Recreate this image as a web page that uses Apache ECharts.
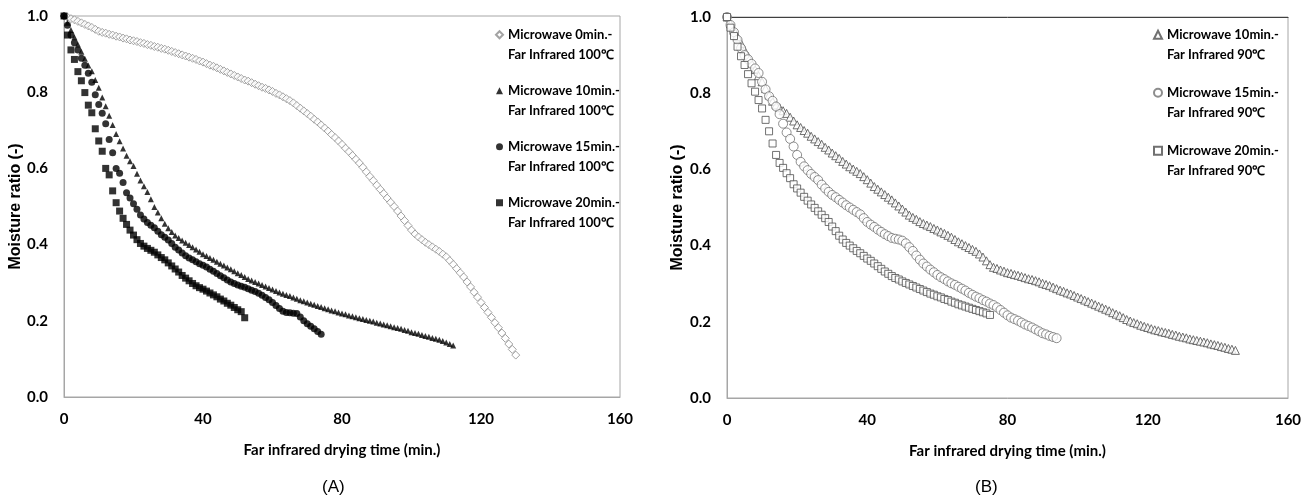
<!DOCTYPE html>
<html>
<head>
<meta charset="utf-8">
<script src="https://cdn.jsdelivr.net/npm/echarts@6/dist/echarts.min.js"></script>
<style>
html, body { margin: 0; padding: 0; background: #fff; }
#main { width: 1312px; height: 499px; }
</style>
</head>
<body>
<div id="main"></div>
<script>
// moisture ratio, one reading per minute of far infrared drying
var timeStep = 1;

// (A) far infrared 100 C
var mw0A = [
  1.000, 0.997, 0.993, 0.990, 0.986, 0.982, 0.978, 0.974, 0.970, 0.965,
  0.960, 0.957, 0.955, 0.952, 0.950, 0.947, 0.945, 0.942, 0.940, 0.937,
  0.935, 0.933, 0.930, 0.928, 0.925, 0.923, 0.920, 0.918, 0.915, 0.913,
  0.910, 0.907, 0.904, 0.901, 0.898, 0.895, 0.892, 0.889, 0.886, 0.882,
  0.879, 0.875, 0.871, 0.868, 0.864, 0.860, 0.856, 0.852, 0.848, 0.844,
  0.840, 0.836, 0.832, 0.829, 0.825, 0.821, 0.817, 0.813, 0.810, 0.806,
  0.802, 0.797, 0.793, 0.788, 0.783, 0.778, 0.772, 0.765, 0.758, 0.751,
  0.744, 0.737, 0.729, 0.722, 0.714, 0.706, 0.698, 0.689, 0.681, 0.672,
  0.663, 0.653, 0.644, 0.634, 0.624, 0.614, 0.603, 0.591, 0.579, 0.568,
  0.556, 0.545, 0.534, 0.522, 0.511, 0.500, 0.488, 0.475, 0.463, 0.450,
  0.438, 0.428, 0.420, 0.413, 0.406, 0.400, 0.394, 0.388, 0.382, 0.375,
  0.368, 0.358, 0.348, 0.337, 0.326, 0.315, 0.302, 0.289, 0.275, 0.262,
  0.248, 0.235, 0.222, 0.209, 0.195, 0.182, 0.168, 0.154, 0.139, 0.125,
  0.110
];
var mw10A = [
  1.000, 0.982, 0.963, 0.944, 0.925, 0.906, 0.888, 0.870, 0.855, 0.832,
  0.812, 0.786, 0.763, 0.738, 0.714, 0.690, 0.671, 0.652, 0.633, 0.619,
  0.606, 0.586, 0.568, 0.553, 0.538, 0.519, 0.499, 0.484, 0.469, 0.455,
  0.443, 0.433, 0.424, 0.417, 0.411, 0.405, 0.399, 0.393, 0.387, 0.381,
  0.375, 0.370, 0.365, 0.360, 0.355, 0.350, 0.345, 0.340, 0.335, 0.330,
  0.325, 0.320, 0.315, 0.310, 0.306, 0.302, 0.298, 0.294, 0.290, 0.286,
  0.282, 0.278, 0.274, 0.271, 0.268, 0.265, 0.261, 0.258, 0.254, 0.251,
  0.248, 0.245, 0.242, 0.239, 0.236, 0.233, 0.230, 0.227, 0.225, 0.222,
  0.219, 0.217, 0.214, 0.212, 0.209, 0.207, 0.205, 0.202, 0.200, 0.198,
  0.195, 0.193, 0.190, 0.188, 0.186, 0.183, 0.181, 0.179, 0.176, 0.174,
  0.170, 0.168, 0.166, 0.163, 0.160, 0.158, 0.155, 0.153, 0.150, 0.147,
  0.143, 0.139, 0.135
];
var mw15A = [
  1.000, 0.976, 0.950, 0.930, 0.911, 0.889, 0.871, 0.850, 0.826, 0.793,
  0.768, 0.745, 0.717, 0.676, 0.641, 0.600, 0.587, 0.563, 0.536, 0.522,
  0.507, 0.493, 0.478, 0.467, 0.458, 0.451, 0.444, 0.435, 0.426, 0.419,
  0.412, 0.403, 0.393, 0.386, 0.378, 0.371, 0.365, 0.360, 0.355, 0.350,
  0.346, 0.341, 0.335, 0.330, 0.324, 0.318, 0.313, 0.307, 0.302, 0.298,
  0.294, 0.291, 0.288, 0.284, 0.280, 0.277, 0.272, 0.267, 0.261, 0.255,
  0.248, 0.240, 0.232, 0.225, 0.222, 0.221, 0.220, 0.219, 0.210, 0.200,
  0.192, 0.186, 0.179, 0.172, 0.165
];
var mw20A = [
  1.000, 0.950, 0.911, 0.886, 0.854, 0.830, 0.799, 0.766, 0.746, 0.704,
  0.672, 0.645, 0.600, 0.583, 0.541, 0.510, 0.488, 0.469, 0.453, 0.438,
  0.425, 0.413, 0.403, 0.396, 0.390, 0.385, 0.380, 0.373, 0.366, 0.360,
  0.352, 0.344, 0.336, 0.328, 0.319, 0.312, 0.305, 0.298, 0.292, 0.287,
  0.283, 0.278, 0.273, 0.268, 0.263, 0.257, 0.252, 0.246, 0.241, 0.235,
  0.229, 0.224, 0.208
];

// (B) far infrared 90 C
var mw10B = [
  1.000, 0.982, 0.965, 0.948, 0.931, 0.913, 0.896, 0.879, 0.862, 0.846,
  0.830, 0.812, 0.795, 0.779, 0.769, 0.762, 0.754, 0.747, 0.737, 0.727,
  0.717, 0.710, 0.702, 0.695, 0.687, 0.680, 0.673, 0.666, 0.658, 0.651,
  0.643, 0.636, 0.629, 0.621, 0.614, 0.607, 0.601, 0.595, 0.589, 0.581,
  0.573, 0.564, 0.555, 0.548, 0.541, 0.534, 0.527, 0.520, 0.512, 0.504,
  0.496, 0.488, 0.480, 0.474, 0.469, 0.463, 0.458, 0.454, 0.450, 0.445,
  0.441, 0.436, 0.432, 0.427, 0.422, 0.416, 0.410, 0.405, 0.400, 0.395,
  0.390, 0.385, 0.378, 0.370, 0.360, 0.350, 0.343, 0.340, 0.336, 0.333,
  0.329, 0.327, 0.324, 0.322, 0.319, 0.316, 0.313, 0.311, 0.308, 0.305,
  0.301, 0.298, 0.295, 0.291, 0.287, 0.283, 0.280, 0.276, 0.273, 0.269,
  0.265, 0.261, 0.257, 0.253, 0.249, 0.245, 0.241, 0.237, 0.233, 0.229,
  0.224, 0.220, 0.216, 0.211, 0.206, 0.202, 0.198, 0.195, 0.191, 0.188,
  0.185, 0.182, 0.179, 0.177, 0.174, 0.172, 0.170, 0.167, 0.165, 0.162,
  0.160, 0.158, 0.155, 0.153, 0.151, 0.149, 0.147, 0.145, 0.142, 0.140,
  0.138, 0.135, 0.133, 0.130, 0.128, 0.125
];
var mw15B = [
  1.000, 0.979, 0.960, 0.940, 0.918, 0.900, 0.889, 0.877, 0.865, 0.853,
  0.830, 0.810, 0.792, 0.780, 0.765, 0.745, 0.720, 0.697, 0.680, 0.660,
  0.638, 0.620, 0.608, 0.598, 0.588, 0.580, 0.572, 0.560, 0.550, 0.541,
  0.533, 0.527, 0.520, 0.513, 0.506, 0.500, 0.494, 0.488, 0.482, 0.472,
  0.462, 0.455, 0.449, 0.442, 0.436, 0.430, 0.425, 0.420, 0.418, 0.416,
  0.413, 0.406, 0.396, 0.386, 0.374, 0.363, 0.353, 0.345, 0.337, 0.330,
  0.323, 0.317, 0.312, 0.306, 0.301, 0.297, 0.292, 0.287, 0.282, 0.276,
  0.271, 0.266, 0.262, 0.257, 0.253, 0.248, 0.244, 0.238, 0.231, 0.224,
  0.217, 0.211, 0.207, 0.203, 0.198, 0.193, 0.189, 0.185, 0.180, 0.175,
  0.170, 0.167, 0.163, 0.160, 0.157
];
var mw20B = [
  1.000, 0.972, 0.950, 0.922, 0.897, 0.874, 0.850, 0.826, 0.804, 0.782,
  0.760, 0.730, 0.700, 0.668, 0.638, 0.617, 0.604, 0.590, 0.577, 0.561,
  0.550, 0.539, 0.528, 0.518, 0.508, 0.499, 0.490, 0.481, 0.472, 0.462,
  0.450, 0.438, 0.426, 0.416, 0.407, 0.400, 0.393, 0.386, 0.380, 0.373,
  0.366, 0.360, 0.353, 0.346, 0.339, 0.332, 0.326, 0.320, 0.315, 0.311,
  0.306, 0.302, 0.298, 0.294, 0.290, 0.286, 0.282, 0.278, 0.274, 0.271,
  0.267, 0.264, 0.260, 0.257, 0.253, 0.250, 0.246, 0.243, 0.240, 0.237,
  0.234, 0.231, 0.228, 0.225, 0.222, 0.218
];

var namesA = [
  'Microwave 0min.-\nFar Infrared 100℃',
  'Microwave 10min.-\nFar Infrared 100℃',
  'Microwave 15min.-\nFar Infrared 100℃',
  'Microwave 20min.-\nFar Infrared 100℃'
];
var namesB = [
  'Microwave 10min.-\nFar Infrared 90℃',
  'Microwave 15min.-\nFar Infrared 90℃',
  'Microwave 20min.-\nFar Infrared 90℃'
];
var xTitle = 'Far infrared drying time (min.)';
var yTitle = 'Moisture ratio (-)';

var FONT = 'Lato, "Liberation Sans", sans-serif';

function pts(arr) {
    return arr.map(function (v, i) { return [i * timeStep, v]; });
}

function xAxisFor(idx) {
    return {
        type: 'value', gridIndex: idx, min: 0, max: 160, interval: 40,
        axisLine: { show: true, lineStyle: { color: '#a6a6a6', width: 1 } },
        axisTick: { show: false },
        splitLine: { show: false },
        axisLabel: { margin: 15, color: '#000', fontFamily: FONT, fontWeight: 'bold', fontSize: 15 },
        name: xTitle, nameLocation: 'middle', nameGap: 46,
        nameTextStyle: { color: '#000', fontFamily: FONT, fontWeight: 'bold', fontSize: 15 }
    };
}
function yAxisFor(idx) {
    return {
        type: 'value', gridIndex: idx, min: 0, max: 1, interval: 0.2,
        axisLine: { show: true, lineStyle: { color: '#a6a6a6', width: 1 } },
        axisTick: { show: false },
        splitLine: { show: false },
        axisLabel: {
            margin: 16, color: '#000', fontFamily: FONT, fontWeight: 'bold', fontSize: 15,
            formatter: function (v) { return v.toFixed(1); }
        },
        name: yTitle, nameLocation: 'middle', nameGap: idx === 0 ? 40 : 41,
        nameTextStyle: { color: '#000', fontFamily: '"Liberation Sans", sans-serif', fontWeight: 'bold', fontSize: 16 }
    };
}

// a blank first line keeps the legend marker level with the first text line
var legendText = {
    fontFamily: FONT, fontWeight: 'bold', fontSize: 13, color: '#000', lineHeight: 20.5
};
function legendLabel(name) { return ' \n' + name; }

var option = {
    animation: false,
    title: [
        { text: '(A)', left: 317, top: 474, textStyle: { fontFamily: 'Liberation Sans', fontWeight: 'normal', fontSize: 17, color: '#000' } },
        { text: '(B)', left: 970, top: 474, textStyle: { fontFamily: 'Liberation Sans', fontWeight: 'normal', fontSize: 17, color: '#000' } }
    ],
    grid: [
        { left: 64, top: 16, width: 556, height: 381, show: true, borderColor: '#a6a6a6', borderWidth: 1 },
        { left: 727, top: 17, width: 561, height: 381, show: true, borderColor: '#a6a6a6', borderWidth: 1 }
    ],
    xAxis: [
        xAxisFor(0),
        xAxisFor(1),
        {
            type: 'value', gridIndex: 1, position: 'top', min: 0, max: 160,
            axisLine: { show: true, lineStyle: { color: '#404040' } },
            axisTick: { show: false }, axisLabel: { show: false }, splitLine: { show: false }
        }
    ],
    yAxis: [yAxisFor(0), yAxisFor(1)],
    legend: [
        {
            data: namesA, orient: 'vertical', left: 495, top: 4, padding: 0,
            itemGap: -5.5, itemWidth: 7, itemHeight: 7, selectedMode: false,
            formatter: legendLabel, textStyle: legendText
        },
        {
            data: namesB, orient: 'vertical', left: 1153, top: 4, padding: 0,
            itemGap: -3.5, itemWidth: 8, itemHeight: 8, selectedMode: false,
            formatter: legendLabel, textStyle: legendText
        }
    ],
    series: [
        {
            name: namesA[0], type: 'scatter', xAxisIndex: 0, yAxisIndex: 0,
            symbol: 'diamond', symbolSize: 8,
            itemStyle: { color: '#fff', borderColor: '#8c8c8c', borderWidth: 1 },
            data: pts(mw0A)
        },
        {
            name: namesA[1], type: 'scatter', xAxisIndex: 0, yAxisIndex: 0,
            symbol: 'triangle', symbolSize: 6,
            itemStyle: { color: '#000' },
            data: pts(mw10A)
        },
        {
            name: namesA[2], type: 'scatter', xAxisIndex: 0, yAxisIndex: 0,
            symbol: 'circle', symbolSize: 7,
            itemStyle: { color: '#000' },
            data: pts(mw15A)
        },
        {
            name: namesA[3], type: 'scatter', xAxisIndex: 0, yAxisIndex: 0,
            symbol: 'rect', symbolSize: 7,
            itemStyle: { color: '#000' },
            data: pts(mw20A)
        },
        {
            name: namesB[0], type: 'scatter', xAxisIndex: 1, yAxisIndex: 1,
            symbol: 'triangle', symbolSize: 8,
            itemStyle: { color: '#fff', borderColor: '#4d4d4d', borderWidth: 1 },
            data: pts(mw10B)
        },
        {
            name: namesB[1], type: 'scatter', xAxisIndex: 1, yAxisIndex: 1,
            symbol: 'circle', symbolSize: 9,
            itemStyle: { color: '#fff', borderColor: '#707070', borderWidth: 1 },
            data: pts(mw15B)
        },
        {
            name: namesB[2], type: 'scatter', xAxisIndex: 1, yAxisIndex: 1,
            symbol: 'rect', symbolSize: 7,
            itemStyle: { color: '#fff', borderColor: '#4d4d4d', borderWidth: 1 },
            data: pts(mw20B)
        }
    ]
};

var chart = echarts.init(document.getElementById('main'));
chart.setOption(option);
</script>
</body>
</html>
